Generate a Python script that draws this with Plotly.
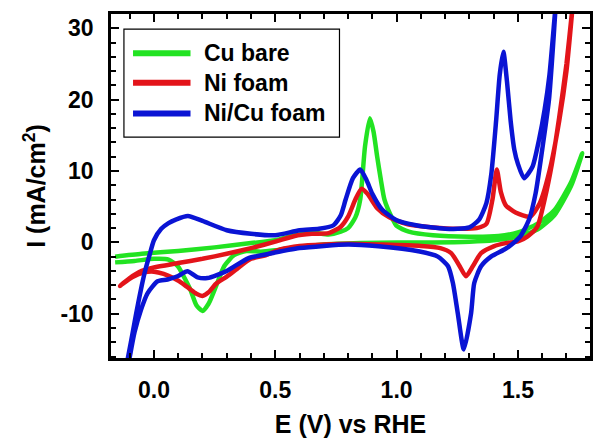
import plotly.graph_objects as go

# Cyclic voltammograms: potential E (V vs RHE) and current density I (mA/cm^2),
# each loop listed as the anodic sweep followed by the cathodic return sweep.
series_names = ["Cu bare", "Ni foam", "Ni/Cu foam"]
series_colors = ["#22e322", "#e3141a", "#0a14d4"]

cu_bare_E = [-0.16, -0.05, 0.1, 0.25, 0.4, 0.5, 0.58, 0.65, 0.72, 0.77, 0.8, 0.83,
             0.85, 0.87, 0.89, 0.905, 0.92, 0.935, 0.95, 0.98, 1.0, 1.05, 1.15, 1.3,
             1.42, 1.5, 1.58, 1.65, 1.72, 1.765,
             1.72, 1.65, 1.58, 1.5, 1.4, 1.3, 1.15, 1.0, 0.85, 0.7, 0.58, 0.5, 0.44,
             0.38, 0.33, 0.29, 0.255, 0.225, 0.2, 0.175, 0.15, 0.12, 0.1, 0.06, 0.0,
             -0.08, -0.16]
cu_bare_I = [-2.0, -1.6, -1.2, -0.7, -0.1, 0.3, 1.0, 1.4, 1.1, 1.5, 2.0, 3.5,
             6.0, 13.5, 17.4, 15.5, 12.0, 8.8, 6.0, 3.5, 2.3, 1.5, 1.0, 0.8,
             0.9, 1.4, 2.6, 4.5, 8.5, 12.5,
             8.0, 3.8, 1.8, 0.8, 0.3, 0.1, 0.0, 0.0, -0.1, -0.3, -0.7, -1.1, -1.3,
             -1.2, -1.8, -3.3, -6.2, -8.6, -9.6, -8.8, -6.6, -4.6, -3.4, -2.4, -2.3,
             -2.6, -2.8]

ni_foam_E = [-0.14, -0.1, -0.05, 0.0, 0.1, 0.2, 0.3, 0.4, 0.5, 0.58, 0.65, 0.72,
             0.77, 0.8, 0.83, 0.855, 0.88, 0.92, 0.97, 1.05, 1.15, 1.25, 1.33, 1.37,
             1.395, 1.413, 1.43, 1.45, 1.49, 1.55, 1.59, 1.63, 1.67, 1.7, 1.725,
             1.7, 1.67, 1.64, 1.61, 1.58, 1.54, 1.5, 1.45, 1.4, 1.348, 1.314, 1.286,
             1.26, 1.225, 1.18, 1.1, 0.93, 0.8, 0.7, 0.6, 0.52, 0.46, 0.4, 0.35,
             0.3, 0.256, 0.225, 0.2, 0.175, 0.15, 0.12, 0.08, 0.04, 0.0, -0.04,
             -0.09, -0.14]
ni_foam_I = [-6.1, -5.0, -4.0, -3.5, -2.9, -2.3, -1.6, -0.8, 0.1, 0.9, 1.2, 1.3,
             2.2, 3.6, 6.0, 7.5, 6.8, 4.8, 3.5, 2.5, 2.1, 1.9, 2.0, 2.6,
             6.0, 10.2, 7.0, 5.2, 4.2, 3.6, 5.5, 10.0, 17.0, 24.0, 33.0,
             25.0, 17.5, 11.0, 6.0, 2.2, 0.85, 0.15, -0.1, -0.55, -1.5, -3.35, -4.75,
             -3.35, -1.5, -0.8, -0.5, -0.3, -0.2, -0.3, -0.5, -1.0, -1.8, -2.3, -3.5,
             -4.8, -5.8, -7.0, -7.5, -7.2, -6.6, -5.8, -5.0, -4.4, -4.1, -4.2,
             -4.9, -6.1]

nicu_foam_E = [-0.112, -0.095, -0.08, -0.065, -0.05, -0.035, -0.02, 0.0, 0.03, 0.06,
               0.09, 0.14, 0.2, 0.3, 0.4, 0.5, 0.6, 0.68, 0.74, 0.77, 0.79, 0.82,
               0.85, 0.875, 0.9, 0.94, 1.0, 1.08, 1.2, 1.3, 1.34, 1.37, 1.39, 1.41,
               1.425, 1.44, 1.455, 1.47, 1.485, 1.5, 1.525, 1.56, 1.587, 1.61, 1.63,
               1.655,
               1.628, 1.6, 1.573, 1.546, 1.51, 1.47, 1.444, 1.389, 1.348, 1.32, 1.307,
               1.277, 1.252, 1.232, 1.212, 1.17, 1.09, 0.925, 0.8, 0.6, 0.46, 0.39,
               0.3, 0.22, 0.18, 0.138, 0.097, 0.056, 0.015, -0.026, -0.053, -0.08,
               -0.1, -0.11]
nicu_foam_I = [-17.0, -14.0, -11.2, -8.5, -6.0, -3.8, -2.0, 0.3, 1.9, 2.7,
               3.2, 3.7, 3.0, 1.7, 1.2, 1.0, 1.7, 1.9, 2.4, 3.8, 6.0, 9.0,
               10.2, 8.8, 6.8, 4.6, 3.1, 2.4, 1.9, 2.1, 3.2, 5.5, 9.5, 17.0,
               23.5, 26.7, 22.5, 17.0, 13.0, 11.0, 9.0, 10.6, 14.4, 18.6, 23.5,
               33.0,
               20.0, 13.0, 6.9, 3.2, 0.85, -0.4, -1.0, -2.0, -3.35, -5.7, -9.9,
               -15.0, -9.9, -5.7, -3.35, -2.0, -1.25, -0.55, -0.3, -0.8, -1.7, -2.2,
               -4.0, -5.0, -4.9, -4.05, -4.75, -5.2, -5.45, -7.1, -9.4, -12.6,
               -16.1, -18.0]

# Axis ticks (labels use a plain hyphen for negatives)
x_tick_values = [0.0, 0.5, 1.0, 1.5]
x_tick_labels = ["0.0", "0.5", "1.0", "1.5"]
y_tick_values = [-10, 0, 10, 20, 30]
y_tick_labels = ["-10", "0", "10", "20", "30"]

x_range = [-0.177, 1.797]
y_range = [-16.2, 32.0]

font_family = "Liberation Sans, Arial, sans-serif"

fig = go.Figure()
for name, color, E, I in zip(series_names, series_colors,
                             [cu_bare_E, ni_foam_E, nicu_foam_E],
                             [cu_bare_I, ni_foam_I, nicu_foam_I]):
    fig.add_trace(go.Scatter(
        x=E, y=I, mode="lines", name=name, showlegend=False,
        line=dict(color=color, width=4.5, shape="spline", smoothing=0.6),
    ))

# Boxed legend in the upper-left corner of the plot area
legend_box = dict(x0=0.027, x1=0.477, y0=0.642, y1=0.956)
entry_y = [0.886, 0.800, 0.711]
shapes = [dict(type="rect", xref="paper", yref="paper", **legend_box,
               line=dict(color="black", width=1.2), fillcolor="white", layer="below")]
annotations = []
for name, color, ey in zip(series_names, series_colors, entry_y):
    shapes.append(dict(type="line", xref="paper", yref="paper",
                       x0=0.046, x1=0.166, y0=ey, y1=ey,
                       line=dict(color=color, width=6)))
    annotations.append(dict(xref="paper", yref="paper", x=0.189, y=ey,
                            xanchor="left", yanchor="middle", showarrow=False,
                            text=name,
                            font=dict(family=font_family, size=23, color="black",
                                      weight="bold")))

axis_common = dict(
    showline=True, linecolor="black", linewidth=2.5, mirror="ticks",
    ticks="inside", ticklen=8, tickwidth=2, tickcolor="black",
    showgrid=False, zeroline=False,
    tickfont=dict(family=font_family, size=23, color="black", weight="bold"),
)

fig.update_layout(
    width=597, height=444,
    margin=dict(l=111, r=4, t=14, b=86),
    paper_bgcolor="white", plot_bgcolor="white",
    shapes=shapes, annotations=annotations,
    xaxis=dict(
        range=x_range, tickmode="array",
        tickvals=x_tick_values, ticktext=x_tick_labels,
        minor=dict(dtick=0.1, tick0=0, ticks="inside", ticklen=5, tickwidth=1.5,
                   tickcolor="black"),
        ticklabelstandoff=10,
        title=dict(text="E (V) vs RHE", standoff=14,
                   font=dict(family=font_family, size=25, color="black",
                             weight="bold")),
        **axis_common,
    ),
    yaxis=dict(
        range=y_range, tickmode="array",
        tickvals=y_tick_values, ticktext=y_tick_labels,
        minor=dict(dtick=2, tick0=0, ticks="inside", ticklen=5, tickwidth=1.5,
                   tickcolor="black"),
        ticklabelstandoff=10,
        title=dict(text="I (mA/cm<sup>2</sup>)", standoff=8,
                   font=dict(family=font_family, size=25, color="black",
                             weight="bold")),
        **axis_common,
    ),
)

fig.write_html("out.html")
